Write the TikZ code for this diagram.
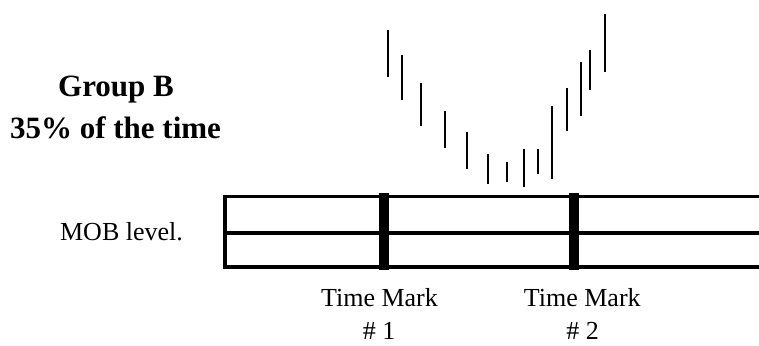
\documentclass[tikz,border=0pt]{standalone}
\usepackage{fontspec}
\setmainfont{Liberation Serif}
\begin{document}
\begin{tikzpicture}[x=1pt,y=-1pt,
  lbl/.style={inner sep=0pt,anchor=base,font=\fontsize{26}{30}\selectfont},
  ttl/.style={inner sep=0pt,anchor=base,font=\fontsize{31}{36}\selectfont\bfseries},
  boxline/.style={line width=3.4pt},
  timebar/.style={line width=10pt},
  pricebar/.style={line width=2.3pt}]
\useasboundingbox (0,0) rectangle (759,345);
% titles
\node[ttl] (g1) at (116,96.7) {Group B};
\node[ttl] (g2) at (115.5,138.3) {35\% of the time};
\node[lbl] (mob) at (121.5,240.5) {MOB level.};
% box (open to the right)
\draw[boxline] (770,196.5) -- (224.8,196.5) -- (224.8,267) -- (770,267);
\draw[boxline] (224.8,233) -- (770,233);
% time marks
\draw[timebar] (384,193) -- (384,270);
\draw[timebar] (574,193) -- (574,270);
\node[lbl] (t1) at (379.5,306) {Time Mark};
\node[lbl] (n1) at (379,339.5) {\# 1};
\node[lbl] (t2) at (582.3,306) {Time Mark};
\node[lbl] (n2) at (582.5,339.5) {\# 2};
% price bars
\foreach \x/\a/\b in {388.3/30/77.3, 402.3/55/100, 421.3/82.7/125.7, 445/111/148.3,
  466.7/131.7/169, 488/154/184, 507/162/182, 523.7/149/186.7, 537.7/149/174,
  552.3/106/179.3, 566.7/88.3/131, 580.7/62.3/115.7, 590/50/90, 604.7/14.3/72}
  \draw[pricebar] (\x,\a) -- (\x,\b);
\end{tikzpicture}
\end{document}
